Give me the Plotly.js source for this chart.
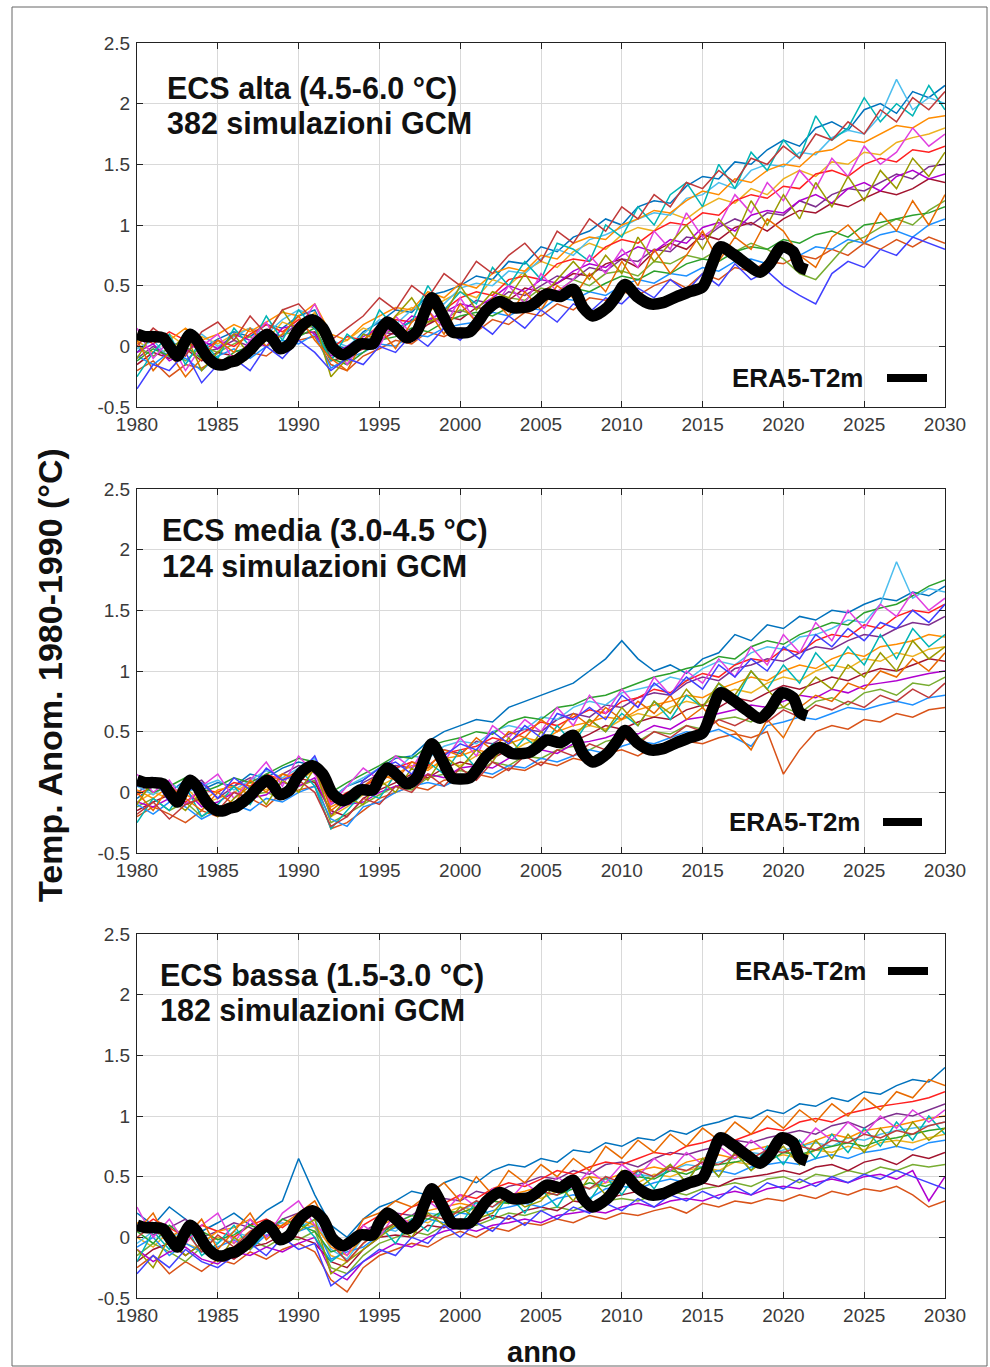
<!DOCTYPE html>
<html>
<head>
<meta charset="utf-8">
<script src="https://cdn.plot.ly/plotly-3.0.1.min.js"></script>
<style>
html,body{margin:0;padding:0;background:#fff;}
#chart{width:990px;height:1367px;}
</style>
</head>
<body>
<div id="chart"></div>
<script>
// ---------------- DATA ----------------
const years = [1980,1981,1982,1983,1984,1985,1986,1987,1988,1989,
  1990,1991,1992,1993,1994,1995,1996,1997,1998,1999,
  2000,2001,2002,2003,2004,2005,2006,2007,2008,2009,
  2010,2011,2012,2013,2014,2015,2016,2017,2018,2019,
  2020,2021,2022,2023,2024,2025,2026,2027,2028,2029,2030];

const xTickLabels = ["1980","1985","1990","1995","2000","2005","2010","2015","2020","2025","2030"];
const yTickLabels = ["-0.5","0","0.5","1","1.5","2","2.5"];

const panelTitles = ["ECS alta (4.5-6.0 °C)", "ECS media (3.0-4.5 °C)", "ECS bassa (1.5-3.0 °C)"];
const panelCounts = ["382 simulazioni GCM", "124 simulazioni GCM", "182 simulazioni GCM"];
const obsName = "ERA5-T2m";
const yTitle = "Temp. Anom. 1980-1990 (°C)";
const xTitle = "anno";

// ERA5 observed (smoothed), same in every panel
const eraYears = [1980.0,1980.5,1981.0,1981.6,1982.0,1982.5,1982.9,1983.3,1983.7,1984.1,1984.5,1984.95,
  1985.4,1985.75,1986.1,1986.55,1987.0,1987.4,1988.05,1988.4,1988.85,1989.45,1989.9,1990.3,1990.85,
  1991.5,1992.1,1992.75,1993.3,1993.8,1994.6,1995.0,1995.5,1996.1,1996.7,1997.3,1997.8,1998.25,
  1998.9,1999.5,2000.0,2000.6,2001.1,2001.65,2002.45,2003.2,2003.9,2004.3,2004.75,2005.35,2006.2,
  2007.0,2007.6,2008.2,2009.1,2009.7,2010.2,2010.95,2011.75,2012.55,2013.4,2014.2,2015.0,2015.6,
  2016.1,2016.9,2017.7,2018.55,2019.15,2019.9,2020.6,2021.0,2021.45];
const eraValues = [0.10,0.08,0.08,0.07,0.00,-0.08,0.02,0.10,0.05,-0.04,-0.11,-0.15,
  -0.15,-0.13,-0.12,-0.08,-0.03,0.03,0.10,0.06,-0.02,0.02,0.12,0.18,0.22,
  0.15,-0.01,-0.07,-0.03,0.02,0.02,0.12,0.20,0.14,0.07,0.12,0.28,0.40,
  0.26,0.12,0.11,0.12,0.20,0.30,0.37,0.32,0.32,0.33,0.37,0.43,0.41,
  0.47,0.32,0.25,0.32,0.42,0.51,0.41,0.35,0.36,0.41,0.45,0.49,0.68,
  0.82,0.76,0.68,0.61,0.68,0.82,0.78,0.66,0.63];

// Representative GCM simulations, high ECS
const highSims = [
 [-0.05,0.08,0.0,0.05,-0.02,0.06,0.12,0.08,0.18,0.15, 0.25,0.3,0.02,-0.02,0.12,0.2,0.3,0.28,0.42,0.45, 0.5,0.58,0.55,0.7,0.68,0.82,0.78,0.9,0.95,1.05, 1.0,1.15,1.2,1.18,1.32,1.4,1.38,1.52,1.5,1.62, 1.7,1.65,1.8,1.85,1.78,1.95,2.0,1.92,2.1,2.05,2.15],
 [-0.2,-0.12,-0.25,-0.15,-0.18,-0.1,-0.15,-0.05,-0.08,0.02, 0.05,0.08,-0.15,-0.2,-0.08,-0.02,0.05,0.02,0.12,0.08, 0.15,0.12,0.22,0.18,0.28,0.25,0.35,0.3,0.4,0.38, 0.45,0.42,0.5,0.55,0.48,0.6,0.55,0.65,0.62,0.7, 0.68,0.75,0.72,0.8,0.75,0.85,0.8,0.88,0.82,0.9,0.85],
 [0.05,-0.05,0.1,0.0,0.08,0.02,0.1,0.15,0.05,0.2, 0.15,0.28,0.0,0.05,0.15,0.1,0.25,0.32,0.28,0.38, 0.45,0.4,0.55,0.5,0.62,0.7,0.65,0.78,0.85,0.8, 0.92,0.98,0.95,1.1,1.05,1.15,1.22,1.18,1.3,1.25, 1.38,1.45,1.4,1.52,1.5,1.6,1.58,1.68,1.72,1.75,1.8],
 [-0.1,0.0,-0.08,0.05,-0.05,-0.02,0.05,0.0,0.12,0.08, 0.2,0.15,-0.1,-0.02,0.02,0.12,0.1,0.22,0.2,0.3, 0.28,0.38,0.35,0.45,0.42,0.5,0.58,0.55,0.65,0.62, 0.72,0.7,0.8,0.78,0.9,0.88,0.98,1.05,1.0,1.1, 1.08,1.2,1.15,1.25,1.3,1.28,1.35,1.42,1.38,1.48,1.5],
 [0.0,-0.08,-0.02,-0.12,0.0,-0.05,0.02,0.08,0.0,0.1, 0.12,0.18,-0.05,-0.12,0.0,0.08,0.15,0.1,0.2,0.22, 0.3,0.25,0.35,0.4,0.38,0.48,0.45,0.55,0.5,0.6, 0.62,0.58,0.7,0.68,0.75,0.72,0.8,0.78,0.85,0.8, 0.72,0.6,0.55,0.7,0.85,0.9,0.98,1.05,1.0,1.12,1.2],
 [-0.02,0.05,-0.1,0.02,0.1,0.0,0.08,0.15,0.1,0.22, 0.3,0.25,0.05,0.0,0.1,0.22,0.18,0.3,0.38,0.35, 0.48,0.52,0.5,0.62,0.6,0.72,0.8,0.75,0.88,0.92, 0.98,1.05,1.1,1.08,1.22,1.25,1.35,1.3,1.45,1.5, 1.48,1.6,1.58,1.72,1.78,1.75,1.9,2.2,1.95,2.05,2.0],
 [-0.15,-0.05,-0.1,-0.02,-0.12,-0.05,-0.08,0.02,0.05,0.0, 0.1,0.12,-0.12,-0.08,-0.02,0.05,0.12,0.08,0.18,0.25, 0.22,0.32,0.3,0.38,0.48,0.45,0.52,0.6,0.58,0.68, 0.72,0.65,0.78,0.85,0.8,0.92,0.88,0.98,1.02,0.95, 1.05,1.12,1.1,1.18,1.15,1.22,1.28,1.25,1.3,1.38,1.35],
 [0.1,0.02,0.12,0.05,-0.05,0.05,0.0,0.1,0.18,0.12, 0.22,0.2,-0.02,0.08,0.05,0.18,0.22,0.2,0.32,0.3, 0.4,0.45,0.42,0.55,0.58,0.55,0.68,0.72,0.7,0.82, 0.88,0.85,0.95,1.02,1.0,1.1,1.08,1.2,1.25,1.22, 1.32,1.3,1.42,1.45,1.4,1.5,1.55,1.52,1.62,1.6,1.65],
 [-0.08,-0.15,-0.05,-0.1,-0.2,-0.08,-0.02,-0.1,0.0,0.05, 0.02,0.1,-0.18,-0.1,-0.05,0.02,0.0,0.1,0.08,0.15, 0.18,0.2,0.28,0.25,0.32,0.3,0.4,0.38,0.45,0.42, 0.5,0.55,0.52,0.6,0.58,0.65,0.62,0.7,0.72,0.68, 0.78,0.75,0.82,0.8,0.88,0.85,0.92,0.95,0.9,1.0,1.05],
 [0.02,0.1,0.05,0.15,0.05,0.1,0.18,0.12,0.2,0.28, 0.25,0.35,0.1,0.05,0.18,0.25,0.32,0.3,0.45,0.4, 0.52,0.48,0.6,0.65,0.62,0.75,0.72,0.85,0.9,0.88, 1.0,1.05,1.12,1.1,1.2,1.28,1.25,1.38,1.35,1.45, 1.5,1.48,1.6,1.62,1.7,1.68,1.75,1.82,1.8,1.88,1.9],
 [-0.05,0.02,-0.12,-0.05,0.05,-0.02,0.1,0.05,0.0,0.15, 0.18,0.1,-0.08,0.0,0.08,0.15,0.12,0.25,0.22,0.28, 0.35,0.32,0.4,0.5,0.45,0.55,0.52,0.62,0.68,0.65, 0.75,0.82,0.78,0.88,0.85,0.98,1.02,0.95,1.08,1.12, 1.1,1.2,1.25,1.18,1.3,1.35,1.28,1.4,1.45,1.38,1.42],
 [-0.12,-0.02,-0.08,0.0,-0.1,-0.15,-0.05,0.0,0.05,-0.02, 0.08,0.15,-0.1,-0.15,-0.05,0.05,0.08,0.15,0.12,0.2, 0.25,0.28,0.25,0.32,0.35,0.42,0.4,0.48,0.45,0.52, 0.58,0.55,0.62,0.6,0.68,0.72,0.7,0.78,0.82,0.8, 0.88,0.85,0.92,0.95,0.9,1.0,1.02,1.05,1.08,1.1,1.15],
 [-0.25,-0.05,0.1,-0.15,0.05,-0.1,0.15,0.0,0.25,0.05, 0.3,0.15,-0.12,0.1,0.0,0.3,0.15,0.2,0.5,0.3, 0.45,0.35,0.65,0.5,0.7,0.55,0.85,0.8,0.7,1.0, 0.9,1.15,1.0,1.25,1.35,1.15,1.5,1.3,1.6,1.45, 1.7,1.55,1.9,1.7,1.8,2.05,1.85,2.0,1.9,2.15,1.95],
 [0.15,-0.1,0.05,-0.2,0.0,0.1,-0.12,0.05,0.2,-0.05, 0.15,0.35,0.05,-0.15,0.05,0.0,0.25,0.1,0.3,0.15, 0.4,0.2,0.3,0.5,0.35,0.6,0.45,0.55,0.75,0.6, 0.8,0.65,0.95,0.8,1.1,0.9,1.0,1.25,1.1,1.35, 1.2,1.45,1.3,1.55,1.4,1.65,1.5,1.6,1.8,1.65,1.75],
 [-0.1,0.12,-0.05,0.1,-0.2,-0.05,0.1,-0.08,0.1,0.3, 0.1,0.2,-0.25,-0.1,0.1,0.05,0.25,0.4,0.2,0.25, 0.5,0.3,0.45,0.4,0.6,0.4,0.55,0.7,0.55,0.75, 0.6,0.9,0.7,0.85,1.0,0.8,1.05,0.9,1.2,1.0, 1.25,1.05,1.35,1.15,1.4,1.2,1.45,1.3,1.55,1.4,1.6],
 [0.05,-0.2,-0.05,-0.25,-0.1,0.05,-0.05,0.15,0.0,0.1, 0.25,0.05,-0.1,-0.2,0.05,0.15,-0.02,0.2,0.3,0.1, 0.35,0.2,0.4,0.25,0.45,0.3,0.5,0.4,0.6,0.45, 0.7,0.5,0.8,0.6,0.75,0.95,0.7,0.9,0.8,1.05, 0.95,0.75,0.65,0.9,1.0,0.85,1.1,0.95,1.2,1.0,1.25],
 [-0.35,-0.15,-0.2,-0.05,-0.3,-0.15,-0.1,-0.2,0.0,-0.1, 0.05,-0.05,-0.2,-0.1,-0.15,0.0,-0.05,0.1,0.0,0.15, 0.05,0.2,0.1,0.25,0.15,0.3,0.2,0.35,0.28,0.4, 0.35,0.48,0.4,0.55,0.45,0.6,0.5,0.68,0.55,0.62, 0.5,0.42,0.35,0.6,0.7,0.65,0.8,0.75,0.9,0.85,0.8],
 [0.0,0.15,0.05,-0.08,0.12,0.2,0.05,0.25,0.1,0.3, 0.35,0.2,0.05,0.15,0.25,0.4,0.3,0.5,0.4,0.6, 0.5,0.7,0.6,0.75,0.85,0.7,0.95,0.85,1.05,0.95, 1.15,1.05,1.25,1.15,1.35,1.3,1.45,1.35,1.55,1.5, 1.65,1.55,1.75,1.7,1.85,1.75,1.95,1.85,2.05,1.95,2.1]
];

// Representative GCM simulations, medium ECS
const mediumSims = [
 [-0.05,0.05,0.0,0.1,0.02,0.08,0.05,0.15,0.12,0.2, 0.25,0.22,-0.05,0.05,0.1,0.2,0.28,0.3,0.42,0.5, 0.55,0.6,0.58,0.7,0.75,0.8,0.85,0.9,1.0,1.1, 1.25,1.1,1.0,1.05,0.98,1.1,1.15,1.3,1.25,1.38, 1.35,1.45,1.42,1.5,1.48,1.55,1.6,1.58,1.65,1.62,1.7],
 [-0.2,-0.12,-0.18,-0.25,-0.15,-0.2,-0.1,-0.05,-0.12,0.0, 0.02,0.05,-0.3,-0.25,-0.15,-0.05,0.0,0.05,0.02,0.1, 0.12,0.15,0.12,0.2,0.18,0.25,0.22,0.28,0.25,0.32, 0.35,0.3,0.38,0.35,0.42,0.4,0.45,0.48,0.45,0.5, 0.15,0.35,0.5,0.55,0.52,0.6,0.58,0.65,0.62,0.68,0.7],
 [-0.08,0.0,-0.05,0.05,-0.1,-0.05,0.0,0.08,0.02,0.12, 0.1,0.18,-0.2,-0.12,-0.02,0.05,0.12,0.1,0.2,0.25, 0.22,0.3,0.35,0.32,0.4,0.45,0.42,0.5,0.55,0.52, 0.6,0.65,0.62,0.7,0.75,0.72,0.8,0.85,0.82,0.9, 0.95,0.92,1.0,1.05,1.02,1.1,1.08,1.15,1.12,1.18,1.2],
 [0.0,0.08,-0.02,0.05,0.1,-0.05,0.05,0.12,0.08,0.15, 0.22,0.18,-0.1,-0.02,0.08,0.15,0.22,0.2,0.3,0.35, 0.32,0.42,0.4,0.48,0.52,0.5,0.6,0.65,0.62,0.72, 0.7,0.78,0.82,0.8,0.9,0.95,0.92,1.02,1.05,1.1, 1.08,1.15,1.2,1.18,1.25,1.3,1.28,1.35,1.4,1.38,1.45],
 [-0.12,-0.05,-0.15,-0.08,-0.2,-0.12,-0.08,-0.02,0.0,-0.05, 0.05,0.1,-0.25,-0.18,-0.1,-0.02,0.05,0.02,0.12,0.15, 0.18,0.15,0.25,0.22,0.3,0.28,0.35,0.38,0.35,0.42, 0.45,0.42,0.5,0.48,0.55,0.52,0.6,0.62,0.58,0.68, 0.7,0.65,0.75,0.78,0.72,0.82,0.85,0.8,0.9,0.88,0.95],
 [0.05,-0.02,0.08,0.0,0.05,0.1,0.02,0.1,0.18,0.12, 0.2,0.28,-0.05,0.05,0.12,0.2,0.18,0.3,0.28,0.38, 0.42,0.4,0.5,0.55,0.52,0.62,0.6,0.7,0.75,0.72, 0.82,0.85,0.88,0.95,0.92,1.02,1.08,1.05,1.15,1.2, 1.18,1.28,1.3,1.35,1.42,1.4,1.55,1.9,1.6,1.68,1.65],
 [-0.15,-0.08,-0.02,-0.1,-0.05,-0.15,-0.08,0.0,0.05,0.02, 0.12,0.08,-0.15,-0.2,-0.05,0.02,0.08,0.15,0.12,0.2, 0.25,0.22,0.28,0.35,0.32,0.38,0.45,0.42,0.48,0.55, 0.52,0.58,0.62,0.6,0.68,0.72,0.7,0.78,0.75,0.82, 0.88,0.85,0.9,0.95,0.92,0.98,1.02,1.0,1.05,1.1,1.08],
 [-0.02,0.05,0.0,-0.08,0.02,0.0,0.08,0.05,0.15,0.1, 0.18,0.25,-0.08,0.0,0.05,0.12,0.2,0.25,0.22,0.32, 0.35,0.38,0.45,0.42,0.5,0.58,0.55,0.62,0.68,0.65, 0.75,0.78,0.85,0.82,0.92,0.98,0.95,1.05,1.1,1.08, 1.18,1.15,1.25,1.3,1.28,1.38,1.35,1.45,1.5,1.48,1.55],
 [-0.1,-0.18,-0.08,-0.12,-0.22,-0.15,-0.1,-0.15,-0.05,-0.08, 0.0,0.05,-0.22,-0.28,-0.12,-0.08,0.0,0.05,0.08,0.05, 0.12,0.18,0.15,0.22,0.2,0.28,0.25,0.3,0.35,0.32, 0.38,0.42,0.4,0.45,0.5,0.48,0.52,0.45,0.38,0.55, 0.58,0.62,0.6,0.65,0.7,0.68,0.72,0.75,0.72,0.78,0.8],
 [0.02,-0.05,0.05,-0.02,-0.08,0.02,0.05,-0.02,0.08,0.15, 0.12,0.2,-0.12,-0.05,0.02,0.1,0.15,0.22,0.18,0.28, 0.3,0.35,0.32,0.4,0.45,0.42,0.5,0.55,0.58,0.62, 0.6,0.68,0.72,0.75,0.8,0.78,0.85,0.9,0.95,0.92, 1.0,1.05,1.02,1.1,1.15,1.12,1.2,1.22,1.25,1.3,1.28],
 [-0.08,-0.12,-0.05,0.02,-0.12,-0.08,0.0,-0.05,-0.02,0.08, 0.05,0.12,-0.18,-0.1,-0.08,0.0,0.05,0.08,0.15,0.12, 0.2,0.22,0.2,0.28,0.3,0.35,0.32,0.4,0.42,0.45, 0.5,0.48,0.55,0.52,0.6,0.62,0.65,0.68,0.72,0.7, 0.75,0.8,0.78,0.85,0.82,0.88,0.9,0.92,0.95,0.98,1.0],
 [0.08,0.0,0.05,0.12,0.0,0.05,0.12,0.08,0.15,0.22, 0.28,0.25,0.0,0.08,0.15,0.22,0.3,0.28,0.38,0.42, 0.45,0.5,0.48,0.58,0.62,0.6,0.7,0.72,0.78,0.8, 0.85,0.9,0.95,0.98,1.02,1.05,1.12,1.1,1.2,1.25, 1.22,1.3,1.35,1.4,1.38,1.48,1.52,1.55,1.62,1.7,1.75],
 [-0.25,-0.05,-0.15,0.05,-0.2,-0.1,0.05,-0.1,0.1,0.0, 0.2,0.05,-0.3,-0.15,0.0,-0.05,0.15,0.05,0.25,0.15, 0.35,0.2,0.4,0.3,0.45,0.35,0.55,0.4,0.6,0.5, 0.65,0.55,0.75,0.6,0.8,0.7,0.9,0.75,1.0,0.85, 1.05,0.9,1.15,1.0,1.2,1.05,1.3,1.1,1.35,1.2,1.3],
 [0.15,0.0,0.1,-0.1,0.05,0.15,-0.05,0.1,0.25,0.05, 0.3,0.15,-0.1,0.05,0.2,0.1,0.3,0.2,0.4,0.25, 0.45,0.3,0.55,0.45,0.6,0.5,0.7,0.55,0.8,0.65, 0.85,0.7,0.95,0.8,1.0,0.9,1.1,0.95,1.2,1.05, 1.3,1.15,1.4,1.25,1.5,1.35,1.55,1.45,1.65,1.5,1.6],
 [-0.1,0.1,-0.05,-0.15,0.0,-0.2,-0.05,0.05,-0.1,0.1, 0.0,0.2,-0.2,-0.05,-0.1,0.1,0.0,0.2,0.1,0.3, 0.2,0.35,0.25,0.45,0.3,0.5,0.4,0.45,0.6,0.5, 0.7,0.55,0.75,0.65,0.85,0.7,0.9,0.8,1.0,0.85, 0.7,0.8,0.95,0.85,1.05,0.95,1.15,1.0,1.25,1.1,1.2],
 [0.0,-0.15,0.05,-0.05,-0.15,0.0,-0.1,0.1,0.0,0.15, 0.1,0.25,-0.15,-0.05,0.05,0.15,0.1,0.25,0.2,0.35, 0.3,0.45,0.35,0.5,0.45,0.6,0.5,0.65,0.55,0.7, 0.6,0.75,0.65,0.8,0.6,0.7,0.55,0.5,0.35,0.6, 0.45,0.7,0.8,0.75,0.9,0.85,1.0,0.95,1.1,1.0,1.15],
 [0.05,0.12,-0.08,0.0,0.08,-0.05,0.12,0.02,0.2,0.1, 0.15,0.3,0.0,-0.1,0.1,0.2,0.25,0.15,0.35,0.3, 0.4,0.35,0.5,0.4,0.55,0.45,0.65,0.6,0.7,0.6, 0.8,0.7,0.9,0.8,0.95,0.85,1.05,0.95,1.1,1.0, 1.2,1.1,1.3,1.2,1.35,1.25,1.4,1.35,1.5,1.4,1.55],
 [-0.18,-0.08,-0.22,-0.1,-0.05,-0.15,0.0,-0.05,0.05,-0.05, 0.1,0.0,-0.28,-0.2,-0.05,-0.1,0.05,0.0,0.15,0.05, 0.2,0.1,0.25,0.18,0.3,0.22,0.35,0.3,0.4,0.35, 0.45,0.4,0.5,0.45,0.55,0.5,0.6,0.55,0.62,0.58, 0.68,0.62,0.72,0.68,0.75,0.7,0.8,0.75,0.85,0.78,0.9]
];

// Representative GCM simulations, low ECS
const lowSims = [
 [0.2,0.1,0.25,0.15,0.05,0.12,0.2,0.1,0.22,0.3, 0.65,0.35,0.1,0.0,0.15,0.25,0.3,0.38,0.35,0.45, 0.5,0.45,0.55,0.6,0.58,0.65,0.62,0.72,0.7,0.78, 0.75,0.82,0.8,0.88,0.85,0.92,0.95,1.0,0.98,1.05, 1.02,1.1,1.08,1.15,1.12,1.2,1.18,1.25,1.3,1.28,1.4],
 [-0.25,-0.15,-0.3,-0.2,-0.28,-0.18,-0.22,-0.12,-0.18,-0.1, -0.05,-0.12,-0.35,-0.45,-0.25,-0.15,-0.1,-0.05,-0.08,0.0, 0.05,0.0,0.08,0.05,0.12,0.1,0.15,0.12,0.18,0.15, 0.2,0.18,0.22,0.25,0.2,0.28,0.25,0.3,0.28,0.32, 0.3,0.35,0.32,0.38,0.35,0.4,0.38,0.42,0.35,0.25,0.3],
 [0.0,-0.08,0.05,-0.05,-0.1,0.0,-0.05,0.05,0.1,0.02, 0.12,0.08,-0.15,-0.2,-0.05,0.05,0.1,0.15,0.12,0.2, 0.25,0.22,0.3,0.28,0.35,0.32,0.38,0.42,0.4,0.45, 0.48,0.45,0.52,0.5,0.55,0.58,0.55,0.62,0.6,0.65, 0.68,0.65,0.72,0.7,0.75,0.72,0.78,0.8,0.78,0.82,0.85],
 [0.1,0.02,0.08,0.15,0.0,0.05,0.12,0.08,0.0,0.15, 0.2,0.25,-0.05,-0.1,0.05,0.12,0.2,0.18,0.28,0.32, 0.3,0.38,0.35,0.42,0.45,0.5,0.48,0.55,0.52,0.6, 0.62,0.58,0.65,0.7,0.68,0.72,0.75,0.8,0.78,0.82, 0.85,0.88,0.85,0.92,0.95,0.9,0.98,1.02,1.0,1.05,1.1],
 [-0.15,-0.05,-0.12,-0.2,-0.08,-0.15,-0.1,-0.02,-0.08,0.0, -0.02,0.05,-0.25,-0.3,-0.15,-0.05,0.0,0.05,0.02,0.1, 0.12,0.1,0.15,0.2,0.18,0.22,0.25,0.22,0.28,0.3, 0.32,0.3,0.35,0.38,0.35,0.4,0.42,0.45,0.42,0.48, 0.5,0.45,0.52,0.5,0.55,0.52,0.58,0.55,0.6,0.58,0.6],
 [-0.05,0.05,-0.02,0.08,0.02,-0.05,0.05,0.0,0.08,0.12, 0.08,0.15,-0.1,-0.18,0.0,0.08,0.05,0.15,0.2,0.18, 0.22,0.28,0.25,0.32,0.3,0.38,0.35,0.42,0.4,0.48, 0.45,0.52,0.5,0.55,0.6,0.58,0.62,0.65,0.7,0.68, 0.72,0.75,0.78,0.75,0.82,0.8,0.85,0.88,0.9,0.92,0.95],
 [-0.2,-0.1,-0.05,-0.15,-0.05,-0.12,-0.18,-0.08,-0.05,0.02, 0.0,-0.05,-0.2,-0.25,-0.1,0.0,0.02,0.0,0.1,0.08, 0.15,0.12,0.18,0.15,0.22,0.25,0.22,0.3,0.28,0.32, 0.35,0.38,0.35,0.42,0.4,0.45,0.42,0.48,0.5,0.52, 0.55,0.52,0.58,0.6,0.55,0.62,0.65,0.6,0.68,0.65,0.7],
 [0.05,0.15,0.08,0.0,0.1,0.05,0.0,0.1,0.15,0.08, 0.18,0.2,-0.02,-0.05,0.1,0.18,0.15,0.25,0.3,0.28, 0.35,0.32,0.4,0.45,0.42,0.48,0.55,0.52,0.58,0.62, 0.6,0.65,0.7,0.68,0.75,0.78,0.82,0.8,0.85,0.9, 0.88,0.95,0.98,0.95,1.02,1.05,1.08,1.1,1.12,1.15,1.2],
 [-0.08,0.0,-0.15,-0.05,-0.12,-0.08,-0.02,-0.1,0.02,-0.02, 0.05,0.1,-0.18,-0.12,-0.08,0.02,0.08,0.05,0.15,0.12, 0.2,0.18,0.22,0.25,0.28,0.25,0.32,0.35,0.32,0.4, 0.42,0.4,0.45,0.48,0.45,0.52,0.55,0.52,0.58,0.6, 0.62,0.6,0.65,0.68,0.65,0.7,0.72,0.75,0.72,0.78,0.8],
 [0.12,0.05,0.0,0.08,-0.05,0.05,0.08,0.15,0.05,0.1, 0.15,0.1,-0.08,-0.15,0.0,0.1,0.15,0.12,0.22,0.25, 0.28,0.25,0.32,0.35,0.38,0.42,0.4,0.45,0.5,0.48, 0.52,0.55,0.58,0.55,0.62,0.65,0.68,0.65,0.72,0.75, 0.78,0.75,0.8,0.85,0.82,0.88,0.9,0.92,0.95,0.98,1.0],
 [-0.1,-0.2,-0.12,-0.08,-0.18,-0.22,-0.12,-0.15,-0.08,-0.12, -0.05,0.0,-0.28,-0.35,-0.2,-0.12,-0.05,-0.08,0.0,0.05, 0.08,0.05,0.1,0.12,0.15,0.12,0.18,0.2,0.22,0.2, 0.25,0.28,0.25,0.3,0.32,0.3,0.35,0.38,0.35,0.4, 0.42,0.4,0.45,0.48,0.45,0.5,0.52,0.48,0.55,0.3,0.5],
 [0.05,-0.05,0.1,0.0,0.05,-0.02,0.02,0.1,0.05,0.15, 0.1,0.05,-0.12,-0.08,0.05,0.02,0.12,0.18,0.15,0.22, 0.2,0.25,0.3,0.28,0.32,0.38,0.35,0.4,0.45,0.42, 0.48,0.5,0.48,0.55,0.52,0.58,0.6,0.62,0.65,0.62, 0.7,0.68,0.72,0.75,0.78,0.75,0.8,0.82,0.85,0.88,0.9],
 [-0.2,0.05,-0.1,0.1,-0.15,-0.05,0.1,-0.1,0.05,-0.05, 0.15,0.0,-0.2,-0.1,0.0,0.1,-0.05,0.15,0.05,0.25, 0.1,0.3,0.15,0.35,0.2,0.4,0.25,0.45,0.3,0.5, 0.35,0.55,0.4,0.6,0.45,0.65,0.5,0.7,0.55,0.75, 0.6,0.8,0.65,0.85,0.7,0.9,0.75,0.95,0.8,1.0,0.85],
 [0.25,0.0,0.15,-0.05,0.1,0.2,-0.05,0.15,0.0,0.2, 0.3,0.1,0.0,-0.15,0.1,0.0,0.2,0.1,0.3,0.2, 0.35,0.25,0.4,0.3,0.45,0.35,0.5,0.4,0.55,0.45, 0.6,0.5,0.65,0.55,0.7,0.6,0.75,0.65,0.8,0.7, 0.85,0.75,0.9,0.8,0.95,0.85,1.0,0.9,1.05,0.95,1.05],
 [-0.1,-0.25,0.0,-0.15,-0.05,-0.2,0.0,-0.1,0.1,-0.05, 0.05,0.15,-0.3,-0.2,-0.1,0.0,0.1,0.0,0.2,0.1, 0.25,0.15,0.2,0.35,0.25,0.3,0.45,0.3,0.5,0.35, 0.55,0.4,0.5,0.6,0.45,0.65,0.5,0.7,0.55,0.65, 0.75,0.6,0.8,0.65,0.85,0.7,0.9,0.75,0.95,0.8,0.9],
 [0.05,0.2,-0.05,0.0,0.15,-0.1,0.05,0.2,-0.02,0.1, 0.2,0.3,0.05,-0.1,0.15,0.2,0.3,0.25,0.35,0.45, 0.3,0.5,0.35,0.55,0.45,0.6,0.5,0.65,0.55,0.75, 0.65,0.8,0.7,0.85,0.75,0.9,0.8,0.95,0.85,1.0, 0.9,1.05,0.95,1.1,1.0,1.15,1.05,1.2,1.15,1.3,1.25],
 [-0.3,-0.15,-0.25,-0.1,-0.2,-0.25,-0.15,-0.05,-0.15,0.0, -0.1,-0.05,-0.4,-0.3,-0.2,-0.1,-0.15,0.0,-0.05,0.1, 0.0,0.12,0.05,0.18,0.1,0.22,0.15,0.25,0.2,0.28, 0.22,0.32,0.25,0.35,0.3,0.38,0.32,0.42,0.35,0.45, 0.4,0.48,0.42,0.5,0.45,0.52,0.48,0.55,0.5,0.45,0.4],
 [0.0,0.1,-0.05,0.05,-0.12,0.02,-0.08,0.05,0.12,0.0, 0.1,0.2,-0.05,-0.2,-0.05,0.05,0.12,0.08,0.18,0.15, 0.22,0.3,0.25,0.35,0.3,0.38,0.35,0.45,0.4,0.5, 0.45,0.55,0.5,0.58,0.55,0.62,0.6,0.68,0.65,0.72, 0.7,0.75,0.72,0.8,0.78,0.85,0.82,0.88,0.85,0.92,0.95]
];

// ---------------- STYLE / LAYOUT ----------------
const W = 990, H = 1367;
const px = v => v / W;
const py = v => 1 - v / H;
const FONT = "Liberation Sans, Arial, Helvetica, sans-serif";
const simColors = ['#0072BD','#D95319','#EDB120','#7E2F8E','#77AC30','#4DBEEE','#A2142F',
                   '#FF2020','#1E90FF','#FF8C00','#B000D0','#2CA02C',
                   '#00B5B5','#E040E0','#9A9A00','#E86A00','#4040FF','#C03A3A'];

const panels = [
  {sims: highSims,   top: 43,  bottom: 407, labelX: 165, label1Y: 88,  label2Y: 123, legendY: 378, legendX: 730, lineX0: 887, lineX1: 927},
  {sims: mediumSims, top: 489, bottom: 853, labelX: 160, label1Y: 530, label2Y: 566, legendY: 822, legendX: 727, lineX0: 883, lineX1: 922},
  {sims: lowSims,    top: 934, bottom: 1298, labelX: 158, label1Y: 975, label2Y: 1010, legendY: 971, legendX: 733, lineX0: 888, lineX1: 928}
];
const plotLeft = 137, plotRight = 945;

const traces = [];
const layout = {
  width: W, height: H,
  margin: {l: 0, r: 0, t: 0, b: 0},
  paper_bgcolor: '#ffffff',
  plot_bgcolor: '#ffffff',
  showlegend: false,
  font: {family: FONT, color: '#333333', size: 19},
  annotations: [],
  shapes: []
};

panels.forEach((p, k) => {
  const sx = k === 0 ? '' : String(k + 1);
  p.sims.forEach((s, i) => {
    traces.push({
      x: years, y: s, type: 'scatter', mode: 'lines',
      xaxis: 'x' + sx, yaxis: 'y' + sx,
      line: {color: simColors[i % simColors.length], width: 1.5},
      hoverinfo: 'skip', showlegend: false
    });
  });
  traces.push({
    x: eraYears, y: eraValues, type: 'scatter', mode: 'lines',
    xaxis: 'x' + sx, yaxis: 'y' + sx, name: obsName,
    line: {color: '#000000', width: 11.5, shape: 'spline', smoothing: 0.8},
    showlegend: false
  });

  const axCommon = {
    showline: true, linecolor: '#222222', linewidth: 1, mirror: 'ticks',
    ticks: 'inside', ticklen: 6, tickcolor: '#222222', tickwidth: 1,
    showgrid: true, gridcolor: '#d9d9d9', gridwidth: 1,
    zeroline: false, fixedrange: true,
    tickfont: {family: FONT, size: 19, color: '#3a3a3a'}
  };
  layout['xaxis' + sx] = Object.assign({}, axCommon, {
    domain: [px(plotLeft), px(plotRight)],
    anchor: 'y' + sx,
    range: [1980, 2030],
    tickmode: 'array',
    tickvals: xTickLabels.map(Number), ticktext: xTickLabels
  });
  layout['yaxis' + sx] = Object.assign({}, axCommon, {
    domain: [py(p.bottom), py(p.top)],
    anchor: 'x' + sx,
    range: [-0.5, 2.5],
    tickmode: 'array',
    tickvals: yTickLabels.map(Number), ticktext: yTickLabels,
    ticklabelstandoff: 2
  });

  // panel labels
  layout.annotations.push({
    xref: 'paper', yref: 'paper', x: px(p.labelX), y: py(p.label1Y),
    xanchor: 'left', yanchor: 'middle', align: 'left', showarrow: false,
    text: '<b>' + panelTitles[k] + '</b>',
    font: {family: FONT, size: 30.5, color: '#111111'}
  });
  layout.annotations.push({
    xref: 'paper', yref: 'paper', x: px(p.labelX), y: py(p.label2Y),
    xanchor: 'left', yanchor: 'middle', align: 'left', showarrow: false,
    text: '<b>' + panelCounts[k] + '</b>',
    font: {family: FONT, size: 30.5, color: '#111111'}
  });
  // legend entry (text + sample line)
  layout.annotations.push({
    xref: 'paper', yref: 'paper', x: px(p.legendX), y: py(p.legendY),
    xanchor: 'left', yanchor: 'middle', showarrow: false,
    text: '<b>' + obsName + '</b>',
    font: {family: FONT, size: 26, color: '#111111'}
  });
  layout.shapes.push({
    type: 'line', xref: 'paper', yref: 'paper',
    x0: px(p.lineX0), x1: px(p.lineX1), y0: py(p.legendY), y1: py(p.legendY),
    line: {color: '#000000', width: 8}
  });
});

// axis titles
layout.annotations.push({
  xref: 'paper', yref: 'paper', x: px(50), y: py(675),
  xanchor: 'center', yanchor: 'middle', textangle: -90, showarrow: false,
  text: '<b>' + yTitle + '</b>',
  font: {family: FONT, size: 34, color: '#111111'}
});
layout.annotations.push({
  xref: 'paper', yref: 'paper', x: px(541), y: py(1352),
  xanchor: 'center', yanchor: 'middle', showarrow: false,
  text: '<b>' + xTitle + '</b>',
  font: {family: FONT, size: 29, color: '#111111'}
});
// outer frame
layout.shapes.push({
  type: 'rect', xref: 'paper', yref: 'paper',
  x0: px(12), x1: px(987), y0: py(1366), y1: py(7),
  line: {color: '#666666', width: 1}, layer: 'above'
});

Plotly.newPlot('chart', traces, layout, {staticPlot: true, displayModeBar: false});
</script>
</body>
</html>
